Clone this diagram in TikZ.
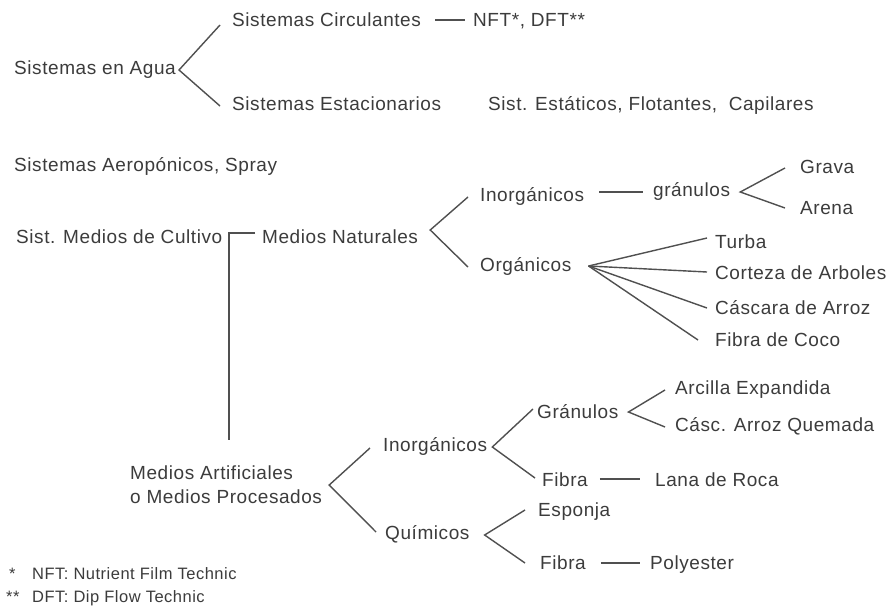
\documentclass[tikz,border=0pt]{standalone}
\usepackage{fontspec}
\setmainfont{Liberation Sans}[LetterSpace=3.0]
\usetikzlibrary{calc}
\definecolor{txt}{HTML}{3C3C3C}
\definecolor{ln}{HTML}{505050}
\begin{document}
\begin{tikzpicture}[x=1pt,y=-1pt,
  lbl/.style={anchor=west,inner sep=0pt,text height=13.5pt,text depth=0pt,text=txt,font=\fontsize{19}{24}\selectfont},
  note/.style={lbl,text height=12pt,font=\fontsize{16.5}{20}\selectfont},
  conn/.style={draw=ln,line width=1.4pt,line join=miter}]
\useasboundingbox[fill=white] (0,0) rectangle (891,605);

% ---- Sistemas en Agua
\node[lbl] (agua)  at (14,68)  {Sistemas en Agua};
\node[lbl] (circ)  at (232,20) {Sistemas Circulantes};
\node[lbl] (nft)   at (473,20) {NFT*, DFT**};
\node[lbl] (estac) at (232,104) {Sistemas Estacionarios};
\node[lbl] (estat) at (488,104) {Sist. Estáticos, Flotantes,\ \ Capilares};

\draw[conn] ($(circ.west)+(-12,5)$) -- ($(agua.east)+(3,2)$) -- ($(estac.west)+(-12,2)$);
\draw[conn] ($(circ.east)+(14,0)$) -- ($(nft.west)+(-8,0)$);

% ---- Aeroponicos
\node[lbl] (aero) at (14,165) {Sistemas Aeropónicos, Spray};

% ---- Medios de cultivo
\node[lbl] (cult) at (16,237) {Sist. Medios de Cultivo};
\node[lbl] (nat)  at (262,237) {Medios Naturales};
\coordinate (vbot) at (229,440);
\draw[conn] ($(nat.west)+(-7,-4)$) -| (vbot);

\node[lbl] (inorgA) at (480,195) {Inorgánicos};
\node[lbl] (org)    at (480,265) {Orgánicos};
\draw[conn] ($(inorgA.west)+(-12,2)$) -- ($(nat.east)+(12,-7)$) -- ($(org.west)+(-12,2)$);

\node[lbl] (granA) at (653,190) {gránulos};
\node[lbl] (grava) at (800,167) {Grava};
\node[lbl] (arena) at (800,208) {Arena};
\draw[conn] ($(inorgA.east)+(15,-3)$) -- ($(granA.west)+(-10,2)$);
\draw[conn] ($(grava.west)+(-15,1)$) -- ($(granA.east)+(10,2)$) -- ($(arena.west)+(-15,0)$);

\node[lbl] (turba)   at (715,242) {Turba};
\node[lbl] (corteza) at (715,273) {Corteza de Arboles};
\node[lbl] (cascara) at (715,308) {Cáscara de Arroz};
\node[lbl] (coco)    at (715,340) {Fibra de Coco};
\coordinate (fan) at ($(org.east)+(17,1)$);
\draw[conn] (fan) -- ($(turba.west)+(-8,-4)$);
\draw[conn] (fan) -- ($(corteza.west)+(-8,-1)$);
\draw[conn] (fan) -- ($(cascara.west)+(-8,0)$);
\draw[conn] (fan) -- ($(coco.west)+(-17,0)$);

% ---- Medios artificiales
\node[lbl] (artifA) at (130,473) {Medios Artificiales};
\node[lbl] (artifB) at (130,497) {o Medios Procesados};
\node[lbl] (inorgB) at (383,445) {Inorgánicos};
\node[lbl] (quim)   at (385,533) {Químicos};
\draw[conn] ($(inorgB.west)+(-13,3)$) -- ($(artifB.east)+(7,-12)$) -- ($(quim.west)+(-9,-1)$);

\node[lbl] (granB)  at (537,412) {Gránulos};
\node[lbl] (fibraA) at (542,480) {Fibra};
\draw[conn] ($(granB.west)+(-4,-3)$) -- ($(inorgB.east)+(5,2)$) -- ($(fibraA.west)+(-7,-2)$);

\node[lbl] (arcilla) at (675,388) {Arcilla Expandida};
\node[lbl] (cascB)   at (675,425) {Cásc. Arroz Quemada};
\draw[conn] ($(arcilla.west)+(-10,2)$) -- ($(granB.east)+(10,0)$) -- ($(cascB.west)+(-10,2)$);

\node[lbl] (lana) at (655,480) {Lana de Roca};
\draw[conn] ($(fibraA.east)+(12,-1)$) -- ($(lana.west)+(-15,-1)$);

\node[lbl] (esponja) at (538,510) {Esponja};
\node[lbl] (fibraB)  at (540,563) {Fibra};
\draw[conn] ($(esponja.west)+(-13,0)$) -- ($(quim.east)+(15,2)$) -- ($(fibraB.west)+(-15,0)$);

\node[lbl] (poly) at (650,563) {Polyester};
\draw[conn] ($(fibraB.east)+(15,0)$) -- ($(poly.west)+(-10,0)$);

% ---- footnotes
\node[note] (starA) at (9,573) {*};
\node[note] (noteA) at (32,573) {NFT: Nutrient Film Technic};
\node[note] (starB) at (6,596) {**};
\node[note] (noteB) at (32,596) {DFT: Dip Flow Technic};
\end{tikzpicture}
\end{document}
